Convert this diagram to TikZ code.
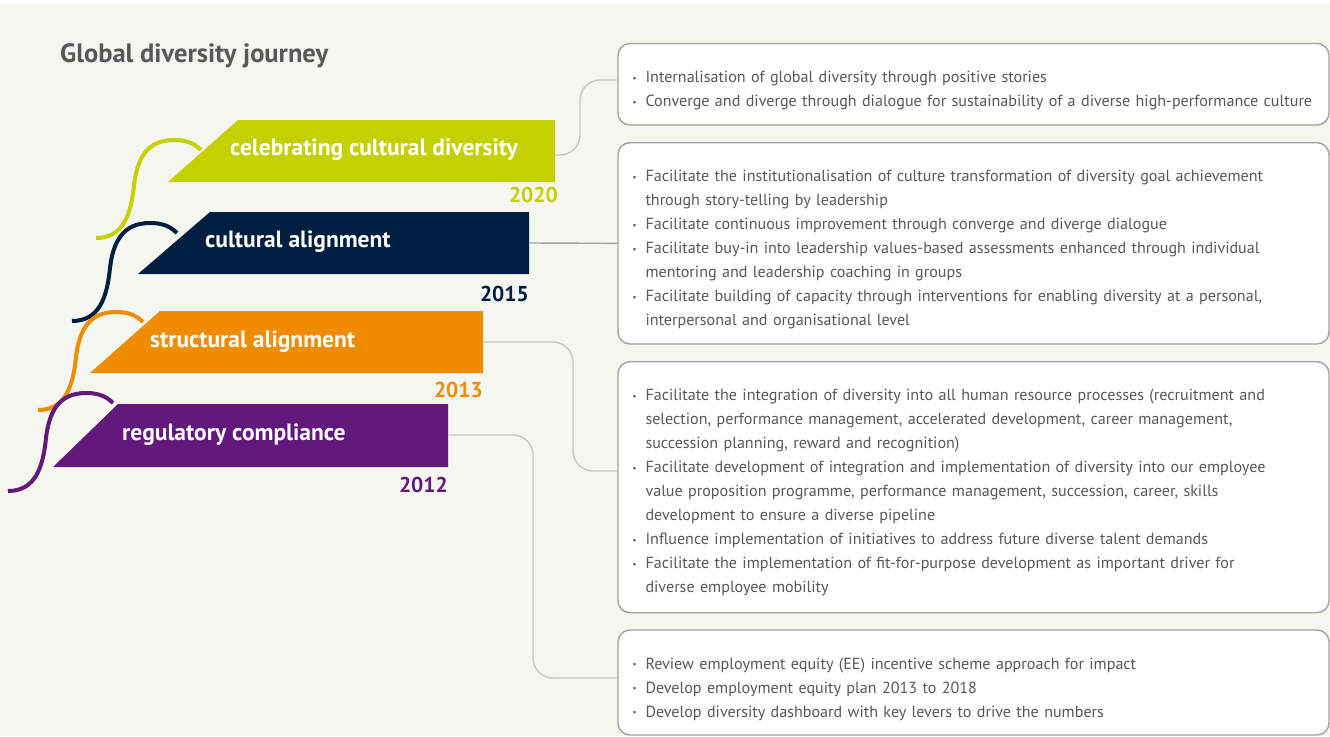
\documentclass[tikz,border=0pt]{standalone}
\usepackage{fontspec}
\setmainfont{PT Sans}
\usepackage{tikz}
\usetikzlibrary{calc}

\definecolor{bgcream}{HTML}{F5F6EF}
\definecolor{stagelime}{HTML}{C4D000}
\definecolor{stagenavy}{HTML}{001E40}
\definecolor{stageorange}{HTML}{F08C00}
\definecolor{stagepurple}{HTML}{63187E}
\definecolor{textgray}{HTML}{58585A}
\definecolor{linkgray}{HTML}{C8C8C8}
\definecolor{boxgray}{HTML}{A2A2A2}

\newcommand\bulletdot{\raisebox{0.15ex}{\fontsize{9}{9}\selectfont\textbullet}}
\newcommand\itm[1]{\par\hangindent=13pt\hangafter=1\noindent\makebox[13pt][l]{\bulletdot}#1}

\begin{document}
\begin{tikzpicture}[x=1pt,y=-1pt,
  bannertext/.style={text=white,font=\fontsize{23.5}{26}\selectfont\bfseries,inner sep=0pt,anchor=base west},
  yeartext/.style={font=\fontsize{21.5}{24}\selectfont\bfseries,inner sep=0pt,anchor=base east},
  swirl/.style={line width=4pt},
  link/.style={draw=linkgray,line width=1.4pt,rounded corners=20pt},
  infobox/.style={draw=boxgray,fill=white,line width=1.4pt,rounded corners=12pt,minimum width=711pt,inner sep=0pt},
  infotext/.style={text=textgray,font=\fontsize{16.1}{24}\selectfont,text width=700pt,align=left,inner sep=0pt,anchor=north west}]
 \useasboundingbox (0,0) rectangle (1330,736);
 % background
 \fill[white] (0,0) rectangle (1330,736);
 \fill[bgcream] (0,4) rectangle (1330,736);
 % title
 \node[text=textgray,font=\fontsize{26.5}{30}\selectfont\bfseries,inner sep=0pt,anchor=base west] (title) at (60,62) {Global diversity journey};
 % swirls
 \draw[swirl,stagelime] (201,150) .. controls (193,142) and (184,140) .. (174,140) .. controls (146,140) and (137,160) .. (134,185) .. controls (131,215) and (123,238) .. (96,238);
 \draw[swirl,stagenavy] (177,233) .. controls (169,225) and (160,223) .. (150,223) .. controls (122,223) and (113,243) .. (110,268) .. controls (107,298) and (99,321) .. (72,321);
 \draw[swirl,stageorange] (143,322) .. controls (135,314) and (126,312) .. (116,312) .. controls (88,312) and (79,332) .. (76,357) .. controls (73,387) and (65,410) .. (38,410);
 \draw[swirl,stagepurple] (113,403) .. controls (105,395) and (96,393) .. (86,393) .. controls (58,393) and (49,413) .. (46,438) .. controls (43,468) and (35,491) .. (8,491);
 % banners
 \fill[stagelime] (168,182) -- (238,120) -- (555,120) -- (555,182) -- cycle;
 \fill[stagenavy] (138,274) -- (210,212) -- (529,212) -- (529,274) -- cycle;
 \fill[stageorange] (90,373) -- (160,311) -- (483,311) -- (483,373) -- cycle;
 \fill[stagepurple] (53,467) -- (118,404) -- (448,404) -- (448,467) -- cycle;
 \node[bannertext] (stageA) at (230,155) {celebrating cultural diversity};
 \node[bannertext] (stageB) at (205,247) {cultural alignment};
 \node[bannertext] (stageC) at (150,347) {structural alignment};
 \node[bannertext] (stageD) at (122,440) {regulatory compliance};
 \coordinate (endA) at (555,155);
 \coordinate (endB) at (529,243);
 \coordinate (endC) at (483,342);
 \coordinate (endD) at (448,435);
 % years
 \node[yeartext,text=stagelime] (yearA) at (558,202) {2020};
 \node[yeartext,text=stagenavy] (yearB) at (529,301) {2015};
 \node[yeartext,text=stageorange] (yearC) at (483,397) {2013};
 \node[yeartext,text=stagepurple] (yearD) at (448,492) {2012};
 % boxes
 \node[infobox,minimum height=81.5pt] (boxA) at (973.5,84.25) {};
 \node[infobox,minimum height=201.3pt] (boxB) at (973.5,243.35) {};
 \node[infobox,minimum height=251pt] (boxC) at (973.5,487.2) {};
 \node[infobox,minimum height=105pt] (boxD) at (973.5,682.5) {};
 % connectors
 \draw[link] (endA) -- ++(25,0) |- ([yshift=4.25pt]boxA.west);
 \draw[link,draw=boxgray] (endB) -- (boxB.west);
 \draw[link] (endC) -- ++(90,0) |- ([yshift=16.2pt]boxC.west);
 \draw[link] (endD) -- ++(85,0) |- ([yshift=4.5pt]boxD.west);
 % lists
 \node[infotext] (listA) at ([xshift=15pt,yshift=-15.5pt]boxA.north west) {%
  \itm{\rule{0pt}{12pt}Internalisation of global diversity through positive stories}
  \itm{Converge and diverge through dialogue for sustainability of a diverse high-performance culture}\par};
 \node[infotext] (listB) at ([xshift=15pt,yshift=-15.5pt]boxB.north west) {%
  \itm{\rule{0pt}{12pt}Facilitate the institutionalisation of culture transformation of diversity goal achievement\break through story-telling by leadership}
  \itm{Facilitate continuous improvement through converge and diverge dialogue}
  \itm{Facilitate buy-in into leadership values-based assessments enhanced through individual\break mentoring and leadership coaching in groups}
  \itm{Facilitate building of capacity through interventions for enabling diversity at a personal,\break interpersonal and organisational level}\par};
 \node[infotext] (listC) at ([xshift=15pt,yshift=-15.5pt]boxC.north west) {%
  \itm{\rule{0pt}{12pt}Facilitate the integration of diversity into all human resource processes (recruitment and\break selection, performance management, accelerated development, career management,\break succession planning, reward and recognition)}
  \itm{Facilitate development of integration and implementation of diversity into our employee\break value proposition programme, performance management, succession, career, skills\break development to ensure a diverse pipeline}
  \itm{Influence implementation of initiatives to address future diverse talent demands}
  \itm{Facilitate the implementation of fit-for-purpose development as important driver for\break diverse employee mobility}\par};
 \node[infotext] (listD) at ([xshift=15pt,yshift=-15.5pt]boxD.north west) {%
  \itm{\rule{0pt}{12pt}Review employment equity (EE) incentive scheme approach for impact}
  \itm{Develop employment equity plan 2013 to 2018}
  \itm{Develop diversity dashboard with key levers to drive the numbers}\par};
\end{tikzpicture}
\end{document}
